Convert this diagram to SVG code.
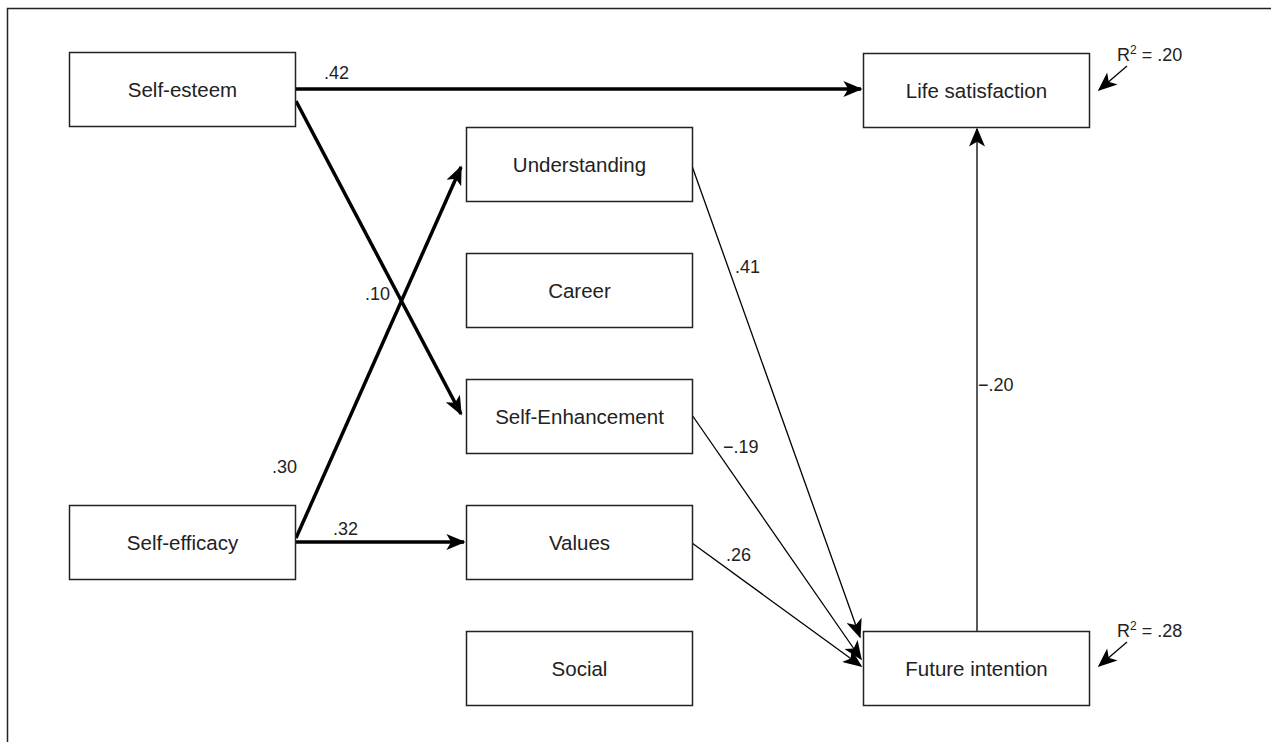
<svg xmlns="http://www.w3.org/2000/svg" width="1271" height="742" viewBox="0 0 1271 742">
<style>
.box{fill:#fff;stroke:#222;stroke-width:1.5}
.t{font-family:"Liberation Sans",Arial,sans-serif;font-size:20.5px;fill:#222;text-anchor:middle}
.l{font-family:"Liberation Sans",Arial,sans-serif;font-size:18px;fill:#222}
.thick{stroke:#000;stroke-width:3.5;fill:none}
.thin{stroke:#000;stroke-width:1.3;fill:none}
</style>
<defs>
<marker id="ahT" viewBox="0 0 12 10" refX="11" refY="5" markerWidth="22" markerHeight="16" markerUnits="userSpaceOnUse" orient="auto">
<path d="M0,0 L12,5 L0,10 L3,5 z" fill="#000"/>
</marker>
</defs>
<rect width="1271" height="742" fill="#fff"/>
<path d="M7.5,742 V8.5 H1271" fill="none" stroke="#222" stroke-width="1.5"/>

<g id="connectors">
<line class="thick" x1="296" y1="89" x2="861" y2="89" marker-end="url(#ahT)"/>
<line class="thick" x1="296" y1="101" x2="461" y2="414" marker-end="url(#ahT)"/>
<line class="thick" x1="296" y1="538" x2="461" y2="167" marker-end="url(#ahT)"/>
<line class="thick" x1="296" y1="542" x2="464" y2="542" marker-end="url(#ahT)"/>
<line class="thin" x1="692" y1="166" x2="860" y2="637" marker-end="url(#ahT)"/>
<line class="thin" x1="692" y1="415" x2="861" y2="659" marker-end="url(#ahT)"/>
<line class="thin" x1="692" y1="543" x2="861" y2="666" marker-end="url(#ahT)"/>
<line class="thin" x1="977" y1="638" x2="977" y2="129" marker-end="url(#ahT)"/>
<line class="thin" x1="1127" y1="66" x2="1099" y2="90" marker-end="url(#ahT)"/>
<line class="thin" x1="1127" y1="642" x2="1099" y2="666" marker-end="url(#ahT)"/>
</g>

<g id="labels">
<text class="l" x="324" y="79">.42</text>
<text class="l" x="365" y="300">.10</text>
<text class="l" x="272" y="473">.30</text>
<text class="l" x="333" y="535">.32</text>
<text class="l" x="735" y="273">.41</text>
<text class="l" x="723" y="453">−.19</text>
<text class="l" x="726" y="561">.26</text>
<text class="l" x="978" y="391">−.20</text>
<text class="l" x="1117" y="61">R<tspan dy="-7" font-size="12">2</tspan><tspan dy="7"> = .20</tspan></text>
<text class="l" x="1117" y="637">R<tspan dy="-7" font-size="12">2</tspan><tspan dy="7"> = .28</tspan></text>
</g>

<g id="self-esteem"><rect class="box" x="69.5" y="52.5" width="226" height="74"/><text class="t" x="182.5" y="97">Self-esteem</text></g>
<g id="self-efficacy"><rect class="box" x="69.5" y="505.5" width="226" height="74"/><text class="t" x="182.5" y="550">Self-efficacy</text></g>
<g id="understanding"><rect class="box" x="466.5" y="127.5" width="226" height="74"/><text class="t" x="579.5" y="172">Understanding</text></g>
<g id="career"><rect class="box" x="466.5" y="253.5" width="226" height="74"/><text class="t" x="579.5" y="298">Career</text></g>
<g id="self-enhancement"><rect class="box" x="466.5" y="379.5" width="226" height="74"/><text class="t" x="579.5" y="424">Self-Enhancement</text></g>
<g id="values"><rect class="box" x="466.5" y="505.5" width="226" height="74"/><text class="t" x="579.5" y="550">Values</text></g>
<g id="social"><rect class="box" x="466.5" y="631.5" width="226" height="74"/><text class="t" x="579.5" y="676">Social</text></g>
<g id="life-satisfaction"><rect class="box" x="863.5" y="53.5" width="226" height="74"/><text class="t" x="976.5" y="98">Life satisfaction</text></g>
<g id="future-intention"><rect class="box" x="863.5" y="631.5" width="226" height="74"/><text class="t" x="976.5" y="676">Future intention</text></g>
</svg>
